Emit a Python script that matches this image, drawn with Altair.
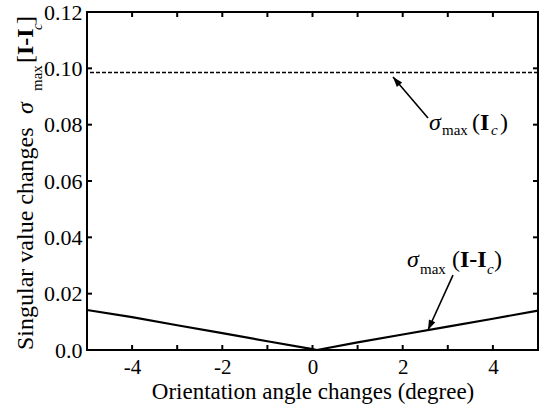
import altair as alt
import pandas as pd

# ---- data ----
angle_deg = [-5, -4, -3, -2, -1, 0, 0.1, 1, 2, 3, 4, 5]
sigma_diff = [0.0142, 0.0117, 0.0088, 0.0060, 0.0031, 0.0003, 0.0, 0.0027, 0.0055, 0.0083, 0.0111, 0.0140]
sigma_ic = [0.0985]

x_ticks = [-5, -4, -3, -2, -1, 0, 1, 2, 3, 4, 5]
x_labels = [-4, -2, 0, 2, 4]
y_ticks = [0.0, 0.02, 0.04, 0.06, 0.08, 0.10, 0.12]

# arrows: tail (x, y) -> head (x2, y2), in data units
arrow_tail_x = [2.561, 3.115]
arrow_tail_y = [0.0824, 0.0266]
arrow_head_x = [1.785, 2.561]
arrow_head_y = [0.0969, 0.0071]
arrow_angle = [319.5, 204.4]

FONT = "Liberation Serif"
W, H = 451, 338

xs = alt.Scale(domain=[-5, 5], nice=False, zero=False)
ys = alt.Scale(domain=[0, 0.12], nice=False)

line_df = pd.DataFrame({"x": angle_deg, "y": sigma_diff})
base = alt.Chart(line_df)

solid = base.mark_line(color="black", strokeWidth=2.2).encode(
    x=alt.X("x:Q", scale=xs,
            axis=alt.Axis(values=x_labels, ticks=False, domain=False, grid=False,
                          labelFont=FONT, labelFontSize=21, labelColor="black",
                          labelPadding=6,
                          labelExpr="datum.value < 0 ? '-' + abs(datum.value) : '' + datum.value",
                          title="Orientation angle changes (degree)",
                          titleFont=FONT, titleFontSize=23, titleFontWeight="normal",
                          titleColor="black", titleBaseline="alphabetic", titleY=48)),
    y=alt.Y("y:Q", scale=ys,
            axis=alt.Axis(values=y_ticks, ticks=False, domain=False, grid=False,
                          labelFont=FONT, labelFontSize=22, labelColor="black",
                          labelPadding=5,
                          labelExpr="datum.value == 0 ? '0.0' : format(datum.value, '.2f')",
                          title="")),
)

dashed = alt.Chart(pd.DataFrame({"y": sigma_ic})).mark_rule(
    color="black", strokeWidth=1.6, strokeDash=[4, 2]
).encode(y=alt.Y("y:Q", scale=ys))

# ticks (inward)
xt = pd.DataFrame({"x": x_ticks})
yt = pd.DataFrame({"y": y_ticks})
tick_b = alt.Chart(xt).mark_rule(color="black", strokeWidth=2).encode(
    x=alt.X("x:Q", scale=xs), y=alt.value(H), y2=alt.value(H - 5))
tick_t = alt.Chart(xt).mark_rule(color="black", strokeWidth=2).encode(
    x=alt.X("x:Q", scale=xs), y=alt.value(0), y2=alt.value(5))
tick_l = alt.Chart(yt).mark_rule(color="black", strokeWidth=2).encode(
    y=alt.Y("y:Q", scale=ys), x=alt.value(0), x2=alt.value(5))
tick_r = alt.Chart(yt).mark_rule(color="black", strokeWidth=2).encode(
    y=alt.Y("y:Q", scale=ys), x=alt.value(W), x2=alt.value(W - 5))

# arrows
arr_df = pd.DataFrame({"x": arrow_tail_x, "y": arrow_tail_y,
                       "x2": arrow_head_x, "y2": arrow_head_y, "a": arrow_angle})
arrows = alt.Chart(arr_df).mark_rule(color="black", strokeWidth=1.6).encode(
    x=alt.X("x:Q", scale=xs), y=alt.Y("y:Q", scale=ys), x2="x2:Q", y2="y2:Q")
heads = alt.Chart(arr_df).mark_point(
    shape="M0,0L-0.35,1L0.35,1Z", filled=True, color="black", opacity=1, size=400
).encode(x=alt.X("x2:Q", scale=xs), y=alt.Y("y2:Q", scale=ys),
         angle=alt.Angle("a:Q", scale=None))


def piece(txt, x, y, size, style="normal", weight="normal", angle=0):
    return alt.Chart(pd.DataFrame({"t": [txt]})).mark_text(
        align="left", baseline="alphabetic", font=FONT, fontSize=size,
        fontStyle=style, fontWeight=weight, angle=angle, color="black"
    ).encode(x=alt.value(x), y=alt.value(y), text="t:N")


# annotation: sigma_max(I_c)
ann1 = [
    piece("σ", 342, 118, 24, style="italic"),
    piece("max", 355, 123, 15),
    piece("(", 385, 118, 24),
    piece("I", 393, 118, 24, weight="bold"),
    piece("c", 404, 123, 15, style="italic"),
    piece(")", 413, 118, 24),
]
# annotation: sigma_max(I-I_c)
ann2 = [
    piece("σ", 320, 255, 24, style="italic"),
    piece("max", 333, 262, 15),
    piece("(", 365, 255, 24),
    piece("I-I", 373, 255, 24, weight="bold"),
    piece("c", 400, 262, 15, style="italic"),
    piece(")", 407, 255, 24),
]
# y-axis title, rotated
ytitle = [
    piece("Singular value changes ", -54, 338, 24, angle=270),
    piece("σ", -54, 102, 24, style="italic", angle=270),
    piece("max", -45, 79, 15, angle=270),
    piece("[", -54, 51, 24, angle=270),
    piece("I-I", -54, 43, 24, weight="bold", angle=270),
    piece("c", -45, 18, 15, style="italic", angle=270),
    piece("]", -54, 12, 24, angle=270),
]

chart = alt.layer(
    solid, dashed, tick_b, tick_t, tick_l, tick_r, arrows, heads,
    *ann1, *ann2, *ytitle
).properties(
    width=W, height=H,
    autosize=alt.AutoSizeParams(type="none"),
    padding={"left": 87, "top": 12, "right": 2, "bottom": 62},
    background="white",
).configure_view(stroke="black", strokeWidth=2)

chart.save("out.html", embed_options={"renderer": "svg", "actions": False})
